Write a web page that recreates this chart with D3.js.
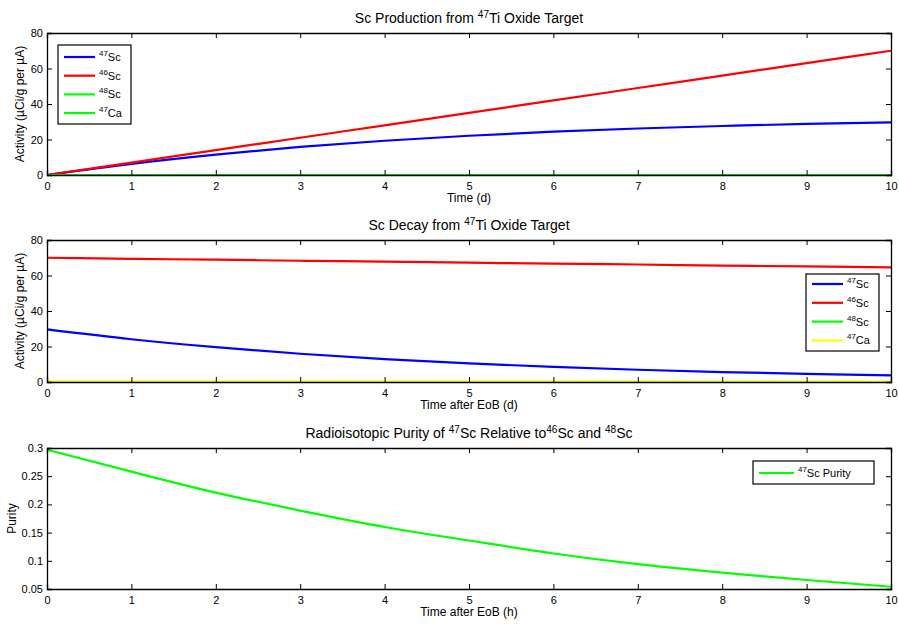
<!DOCTYPE html>
<html><head><meta charset="utf-8">
<script src="https://cdn.jsdelivr.net/npm/d3@7/dist/d3.min.js"></script>
<style>body{margin:0;background:#fff}svg{display:block;font-family:"Liberation Sans",Arial,sans-serif}</style>
</head><body><svg id="c" width="899" height="624"></svg>
<script>
const days = [0,1,2,3,4,5,6,7,8,9,10];
const prod47Sc = [0,6.3,11.5,15.8,19.3,22.1,24.4,26.2,27.6,28.8,29.6];
const prod46Sc = [0,7,14,21,28,35,42,49,56,63,70];
const prod48Sc = [0,0,0,0,0,0,0,0,0,0,0];
const prod47Ca = [0,0,0,0,0,0,0,0,0,0,0];
const dec47Sc = [29.6,24.1,19.6,15.9,12.9,10.5,8.5,6.9,5.6,4.6,3.7];
const dec46Sc = [70,69.4,68.9,68.3,67.8,67.2,66.7,66.2,65.6,65.1,64.6];
const dec48Sc = [0,0,0,0,0,0,0,0,0,0,0];
const dec47Ca = [0.2,0.2,0.2,0.2,0.2,0.2,0.2,0.2,0.2,0.2,0.2];
const purity = [0.297,0.258,0.221,0.189,0.160,0.136,0.113,0.094,0.079,0.066,0.054];
const xTicks = [0,1,2,3,4,5,6,7,8,9,10];
const actTicks = [0,20,40,60,80];
const purTicks = [0.05,0.1,0.15,0.2,0.25,0.3];

const svg = d3.select("#c");
const L = 47, R = 891;

function richText(g, parts, attrs){
  const t = g.append("text");
  for (const k in attrs) t.attr(k, attrs[k]);
  parts.forEach(p=>{
    if (p.sup){
      t.append("tspan").attr("dy", -5).style("font-size","0.72em").text(p.sup);
      t.append("tspan").attr("dy", 5).text(p.t);
    } else t.append("tspan").text(p.t);
  });
  return t;
}

function panel(opt){
  const g = svg.append("g");
  const x = d3.scaleLinear().domain([0,10]).range([L,R]);
  const y = d3.scaleLinear().domain(opt.yDom).range([opt.bottom,opt.top]);
  // title
  richText(g, opt.title, {x:(L+R)/2, y:opt.top-10, "text-anchor":"middle", "font-size":"14px"});
  // series
  const line = d3.line().x((d,i)=>x(days[i])).y(d=>y(d)).curve(d3.curveMonotoneX);
  opt.series.forEach(s=>{
    g.append("path").datum(s.v).attr("d", line).attr("fill","none")
      .attr("stroke", s.c).attr("stroke-width", 2.2);
  });
  // axes box with inward ticks
  const ax = d3.axisBottom(x).tickValues(xTicks).tickSize(-5).tickPadding(7).tickFormat(d3.format("d"));
  const gx = g.append("g").attr("transform",`translate(0,${opt.bottom})`).call(ax);
  const axT = d3.axisTop(x).tickValues(xTicks).tickSize(-5).tickFormat("");
  g.append("g").attr("transform",`translate(0,${opt.top})`).call(axT);
  const ay = d3.axisLeft(y).tickValues(opt.yTicks).tickSize(-5).tickPadding(4).tickFormat(opt.fmt);
  g.append("g").attr("transform",`translate(${L},0)`).call(ay);
  const ayR = d3.axisRight(y).tickValues(opt.yTicks).tickSize(-5).tickFormat("");
  g.append("g").attr("transform",`translate(${R},0)`).call(ayR);
  g.selectAll(".domain").attr("stroke","#000").attr("stroke-width",1.3);
  g.selectAll(".tick line").attr("stroke","#000");
  g.selectAll(".tick text").attr("font-size","11px").attr("font-family","Liberation Sans, Arial, sans-serif").attr("fill","#000");
  // labels
  g.append("text").attr("x",(L+R)/2).attr("y",opt.bottom+27).attr("text-anchor","middle")
    .attr("font-size","12px").text(opt.xLabel);
  g.append("text").attr("transform",`translate(${opt.yLabelX},${(opt.top+opt.bottom)/2}) rotate(-90)`)
    .attr("text-anchor","middle").attr("font-size","12px").text(opt.yLabel);
  // legend
  const lg = opt.legend;
  g.append("rect").attr("x",lg.x).attr("y",lg.y).attr("width",lg.w).attr("height",lg.h)
    .attr("fill","#fff").attr("stroke","#000").attr("stroke-width",1.2);
  lg.items.forEach((it,i)=>{
    const yy = lg.y + lg.first + i*lg.step;
    g.append("line").attr("x1",lg.x+6).attr("x2",lg.x+6+lg.len).attr("y1",yy).attr("y2",yy)
      .attr("stroke",it.c).attr("stroke-width",2.2);
    richText(g, it.label, {x:lg.x+lg.len+10, y:yy+4, "font-size":"11px"});
  });
}

const C = {b:"#0000ff", r:"#ff0000", g:"#00ff00", y:"#ffff00"};
const lab = (n,el)=>[{sup:n,t:el}];

panel({
  top:33, bottom:175, yDom:[0,80], yTicks:actTicks, fmt:d3.format("d"),
  title:[{t:"Sc Production from "},{sup:"47",t:"Ti Oxide Target"}],
  xLabel:"Time (d)", yLabel:"Activity (µCi/g per µA)", yLabelX:24,
  series:[{v:prod47Sc,c:C.b},{v:prod46Sc,c:C.r},{v:prod48Sc,c:C.g},{v:prod47Ca,c:C.g}],
  legend:{x:58,y:45,w:73,h:79,first:12,step:18.7,len:31,
    items:[{c:C.b,label:lab("47","Sc")},{c:C.r,label:lab("46","Sc")},{c:C.g,label:lab("48","Sc")},{c:C.g,label:lab("47","Ca")}]}
});
panel({
  top:240, bottom:382, yDom:[0,80], yTicks:actTicks, fmt:d3.format("d"),
  title:[{t:"Sc Decay from "},{sup:"47",t:"Ti Oxide Target"}],
  xLabel:"Time after EoB (d)", yLabel:"Activity (µCi/g per µA)", yLabelX:24,
  series:[{v:dec47Sc,c:C.b},{v:dec46Sc,c:C.r},{v:dec48Sc,c:C.g},{v:dec47Ca,c:C.y}],
  legend:{x:806,y:274,w:73,h:77,first:10,step:18.8,len:31,
    items:[{c:C.b,label:lab("47","Sc")},{c:C.r,label:lab("46","Sc")},{c:C.g,label:lab("48","Sc")},{c:C.y,label:lab("47","Ca")}]}
});
panel({
  top:448, bottom:589, yDom:[0.05,0.3], yTicks:purTicks, fmt:d=>String(+d.toFixed(2)),
  title:[{t:"Radioisotopic Purity of "},{sup:"47",t:"Sc Relative to"},{sup:"46",t:"Sc and "},{sup:"48",t:"Sc"}],
  xLabel:"Time after EoB (h)", yLabel:"Purity", yLabelX:16,
  series:[{v:purity,c:C.g}],
  legend:{x:753,y:461,w:121,h:23,first:12,step:0,len:35,
    items:[{c:C.g,label:[{sup:"47",t:"Sc Purity"}]}]}
});
</script></body></html>
